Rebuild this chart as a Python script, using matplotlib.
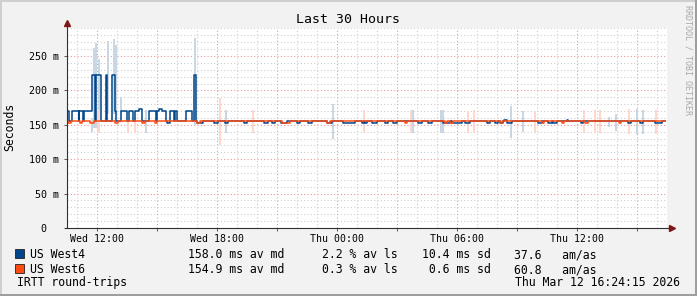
import matplotlib
matplotlib.use("Agg")
import matplotlib.pyplot as plt
from matplotlib.patches import Rectangle

# Horas desde el miércoles 00:00
west4_t = [10.50, 10.615, 10.75, 11.085, 11.115, 11.285, 11.35, 11.75, 11.915, 11.95,
           12.215, 12.45, 12.515, 12.75, 12.915, 12.95, 13.185, 13.515, 13.585, 13.815,
           13.885, 14.10, 14.235, 14.60, 14.935, 15.00, 15.10, 15.235, 15.435, 15.50,
           15.635, 15.835, 15.90, 16.00, 16.435, 16.765, 16.865, 16.965]
west4_v = [170.5, 155.0, 170.5, 155.0, 170.5, 155.0, 170.5, 222.0, 155.0, 222.0,
           155.0, 222.0, 155.0, 222.0, 170.0, 155.0, 170.5, 155.0, 170.5, 155.0,
           170.5, 172.5, 155.0, 170.5, 155.0, 170.5, 172.5, 170.5, 155.0, 152.5,
           170.5, 155.0, 170.5, 155.0, 170.5, 155.0, 222.0, 155.0]
west4_dips = [(16.98, 17.32), (17.87, 18.03), (18.40, 18.53), (19.37, 19.48), (20.37, 20.53),
              (20.77, 20.90), (21.20, 21.48), (21.98, 22.15), (22.57, 22.73), (23.48, 23.73),
              (24.32, 24.90), (25.23, 25.35), (25.40, 25.52), (25.73, 25.98), (26.40, 26.57),
              (26.82, 26.98), (28.07, 28.23), (28.57, 28.73), (29.28, 29.65), (29.73, 30.23),
              (30.40, 30.65), (31.48, 31.65), (31.90, 32.07), (32.15, 32.32), (32.50, 32.73),
              (34.07, 34.23), (34.57, 34.73), (34.82, 34.98), (36.20, 36.32), (38.57, 38.70),
              (39.15, 39.32), (39.90, 40.23)]
west4_bumps = [(32.35, 32.48), (35.48, 35.57)]
west6_dips = [(10.55, 10.72), (11.17, 11.25), (11.67, 11.83), (12.92, 13.05), (14.27, 14.40),
              (14.90, 15.00), (16.98, 17.15), (21.23, 21.65), (23.48, 23.65), (27.40, 27.48),
              (29.40, 29.52), (29.65, 29.82), (32.15, 32.27), (34.23, 34.37), (35.23, 35.37),
              (36.40, 36.57), (38.08, 38.22)]
t_end = 40.4
base = 155.5
dip = 152.5
bump = 157.5

# Rangos (min/max) dibujados en tono claro: (hora, mínimo, máximo)
west4_rng = [(11.72, 140, 160), (11.785, 145, 261), (11.885, 145, 269), (12.05, 170, 245),
             (12.485, 165, 272), (12.785, 165, 274), (12.885, 165, 266), (13.165, 167, 191),
             (14.40, 137.6, 171.5), (16.865, 150, 276), (18.40, 137.6, 171.5),
             (23.73, 130, 180), (27.77, 137.6, 171.5), (29.15, 137.6, 171.5), (29.25, 137.6, 171.5),
             (32.63, 131, 177.7), (33.27, 140, 170), (37.53, 147, 161), (37.90, 141, 166),
             (38.95, 137, 173), (39.23, 136, 171.5)]
west6_rng = [(11.985, 137.6, 171.5), (12.07, 137.6, 171.5), (13.50, 137.6, 155),
             (13.835, 137.6, 155), (18.10, 120, 189), (19.73, 137.6, 171.5),
             (25.28, 137.6, 171.5), (27.65, 137.6, 171.5), (30.48, 137.6, 170),
             (30.78, 137.6, 171.5), (33.87, 137.6, 170), (36.28, 137.6, 171.5),
             (36.87, 137.6, 171.5), (37.12, 137.6, 171.5), (38.53, 137, 173),
             (39.90, 136, 171.5)]

tick_hours = [12, 18, 24, 30, 36]
tick_labels = ["Wed 12:00", "Wed 18:00", "Thu 00:00", "Thu 06:00", "Thu 12:00"]
y_ticks = [0, 50, 100, 150, 200, 250]
y_labels = ["0  ", "50 m", "100 m", "150 m", "200 m", "250 m"]

legend_rows = [
    ("US West4", "158.0 ms av md", "2.2 % av ls", "10.4 ms sd", "37.6   am/as"),
    ("US West6", "154.9 ms av md", "0.3 % av ls", " 0.6 ms sd", "60.8   am/as"),
]
blue = "#00468b"
orange = "#ff4a10"
blue_light = "#c9d7e4"
orange_light = "#ffd3c8"


def steps_from_dips(t0, v0, dips, value, end, extra=None, extra_value=None):
    pts = [(t0, v0)]
    evs = [(a, b, value) for a, b in dips]
    if extra:
        evs += [(a, b, extra_value) for a, b in extra]
    for a, b, v in sorted(evs):
        pts.append((a, v))
        pts.append((b, base))
    pts.append((end, base))
    return [p[0] for p in pts], [p[1] for p in pts]


# Serie West4: tramo inicial + tramo plano con caídas
t4b, v4b = steps_from_dips(west4_t[-1], west4_v[-1], west4_dips, dip, t_end,
                           west4_bumps, bump)
t4 = west4_t[:-1] + t4b
v4 = west4_v[:-1] + v4b
t6, v6 = steps_from_dips(10.5, base, west6_dips, dip, t_end)

mono = "DejaVu Sans Mono"
plt.rcParams['font.family'] = mono

fig = plt.figure(figsize=(6.97, 2.96), dpi=100, facecolor="#f2f2f2")
ax = fig.add_axes([67 / 697, 68 / 296, 600 / 697, 200 / 296])
ax.set_facecolor("white")
ax.set_xlim(10.5, 40.5)
ax.set_ylim(0, 290.7)

# Cuadrícula punteada (menor gris, mayor roja)
for h in range(11, 41):
    col = "#e79a9a" if h % 3 == 0 else "#cfcfcf"
    ax.axvline(h, color=col, lw=0.8, linestyle=(0, (1, 2)), zorder=0)
for v in range(10, 291, 10):
    col = "#e79a9a" if v % 50 == 0 else "#cfcfcf"
    ax.axhline(v, color=col, lw=0.8, linestyle=(0, (1, 2)), zorder=0)

# Rangos claros
for h, lo, hi in west4_rng:
    ax.bar(h, hi - lo, bottom=lo, width=0.1, align='edge', color=blue_light, zorder=1)
for h, lo, hi in west6_rng:
    ax.bar(h, hi - lo, bottom=lo, width=0.1, align='edge', color=orange_light,
           alpha=0.9, zorder=1)

ax.plot(t4, v4, drawstyle='steps-post', color=blue, lw=1.1, zorder=3)
ax.plot(t6, v6, drawstyle='steps-post', color=orange, lw=1.1, zorder=4)

# Ejes con flechas
for s in ax.spines.values():
    s.set_visible(False)
ax.plot([-0.004, 1.008], [0, 0], transform=ax.transAxes, color="#303030", lw=0.8,
        clip_on=False, zorder=5)
ax.plot([0, 0], [0, 1.025], transform=ax.transAxes, color="#303030", lw=0.8,
        clip_on=False, zorder=5)
ax.plot([1.009], [0], marker='>', ms=4, color="#7f1515", transform=ax.transAxes,
        clip_on=False, zorder=6)
ax.plot([0], [1.026], marker='^', ms=4, color="#7f1515", transform=ax.transAxes,
        clip_on=False, zorder=6)

ax.set_xticks(tick_hours)
ax.set_xticklabels(tick_labels)
ax.set_xticks([15, 21, 27, 33, 39], minor=True)
ax.set_yticks(y_ticks)
ax.set_yticklabels(y_labels)
ax.tick_params(axis='x', which='both', length=2, width=0.6, color="#404040",
               labelsize=7.1, pad=2)
ax.tick_params(axis='y', length=2, width=0.6, color="#404040", labelsize=7.2, pad=4)

fig.text(347.7 / 697, 1 - 19.3 / 296, "Last 30 Hours", ha='center', va='center',
         fontsize=9.5)
fig.text(10 / 697, 1 - 127 / 296, "Seconds", rotation=90, ha='center', va='center',
         fontsize=8.3)
fig.text(688 / 697, 1 - 5 / 296, "RRDTOOL / TOBI OETIKER", rotation=-90, ha='center',
         va='top', fontsize=6, color="#a8a8a8")

# Leyenda inferior
cols_x = [30, 188.3, 321.7, 421.7, 514.3]
for i, (row, col) in enumerate(zip(legend_rows, [blue, orange])):
    base_y = 258.3 + 15 * i
    fig.add_artist(Rectangle((15 / 697, 1 - (base_y) / 296), 9 / 697, 9 / 296,
                             transform=fig.transFigure, facecolor=col,
                             edgecolor="#202020", lw=0.6))
    for x, txt in zip(cols_x, row):
        fig.text(x / 697, 1 - base_y / 296, txt, ha='left', va='baseline', fontsize=8.3)
fig.text(16.7 / 697, 1 - 286 / 296, "IRTT round-trips", ha='left', va='baseline',
         fontsize=8.3)
fig.text(680 / 697, 1 - 286 / 296, "Thu Mar 12 16:24:15 2026", ha='right',
         va='baseline', fontsize=8.3)

# Marco sombreado
fig.add_artist(Rectangle((0, 1 - 2 / 296), 1, 2 / 296, transform=fig.transFigure,
                         color="#cfcfcf", lw=0))
fig.add_artist(Rectangle((0, 0), 2 / 697, 1, transform=fig.transFigure,
                         color="#cfcfcf", lw=0))
fig.add_artist(Rectangle((0, 0), 1, 2 / 296, transform=fig.transFigure,
                         color="#9e9e9e", lw=0))
fig.add_artist(Rectangle((1 - 2 / 697, 0), 2 / 697, 1, transform=fig.transFigure,
                         color="#9e9e9e", lw=0))

fig.savefig("out.png", dpi=100, facecolor=fig.get_facecolor())
